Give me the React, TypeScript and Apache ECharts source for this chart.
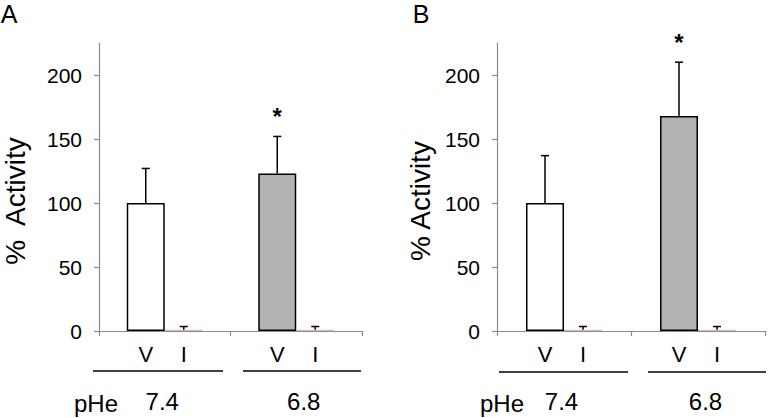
import React, { useEffect, useRef } from "react";
import * as echarts from "echarts";

const categories = ["7.4", "6.8"];
const seriesNames = ["V", "I"];
const vColors = ["#ffffff", "#b3b3b3"];
const iColor = "#e3b5c3";

// Panel A
const aV = [100, 123];
const aVErr = [27, 29];
const aI = [1, 1];
const aIErr = [2.5, 2.5];
const aSig = ["", "*"];

// Panel B
const bV = [100, 168];
const bVErr = [37, 42];
const bI = [1, 1];
const bIErr = [2.5, 2.5];
const bSig = ["", "*"];

const yTicks = [0, 50, 100, 150, 200];
const yMax = 225;

const FONT = "Liberation Sans, Arial, sans-serif";
const BAR_W = 38;

function errSeries(xi: number, vals: number[], errs: number[], sig: string[], dx: number) {
  return {
    type: "custom",
    xAxisIndex: xi,
    yAxisIndex: xi,
    z: 5,
    silent: true,
    data: vals.map((v, i) => [i, v, errs[i]]),
    renderItem: (params: any, api: any) => {
      const i = api.value(0);
      const v = api.value(1);
      const e = api.value(2);
      const s = sig[i] || "";
      const p0 = api.coord([i, v]);
      const p1 = api.coord([i, v + e]);
      const x = p0[0] + dx;
      const children: any[] = [
        { type: "line", shape: { x1: x, y1: p0[1], x2: x, y2: p1[1] }, style: { stroke: "#000", lineWidth: 1.5 } },
        { type: "line", shape: { x1: x - 4, y1: p1[1], x2: x + 4, y2: p1[1] }, style: { stroke: "#000", lineWidth: 1.5 } },
      ];
      if (s) {
        children.push({
          type: "text",
          style: { text: s, x: x, y: p1[1] - 20, align: "center", verticalAlign: "middle", fontSize: 24, fontWeight: "bold", fontFamily: FONT, fill: "#000" },
        });
      }
      return { type: "group", children };
    },
  };
}

function barSeries(xi: number, name: string, vals: number[], colors: string[] | string) {
  return {
    type: "bar",
    name,
    xAxisIndex: xi,
    yAxisIndex: xi,
    barWidth: BAR_W,
    barGap: "0%",
    data: vals.map((v, i) => ({
      value: v,
      itemStyle: {
        color: Array.isArray(colors) ? colors[i] : colors,
        borderColor: Array.isArray(colors) ? "#000" : colors,
        borderWidth: Array.isArray(colors) ? 1.5 : 0,
      },
    })),
    label: {
      show: true,
      position: ["50%", "100%"],
      offset: [0, 12],
      align: "center",
      verticalAlign: "top",
      formatter: () => name,
      fontSize: 22,
      fontFamily: FONT,
      color: "#000",
    },
  };
}

export default function App() {
  const ref = useRef<HTMLDivElement>(null);
  useEffect(() => {
    if (!ref.current) return;
    const chart = echarts.init(ref.current, null, { renderer: "svg" });
    const axisGray = "#8a8a8a";
    const mkX = (gi: number) => ({
      type: "category",
      gridIndex: gi,
      data: categories,
      axisLine: { lineStyle: { color: axisGray, width: 1.2 } },
      axisTick: { show: true, length: 5, lineStyle: { color: axisGray, width: 1.2 } },
      axisLabel: {
        margin: 58,
        formatter: (v: string) => (v === "7.4" ? `{a|${v}}` : `{b|${v}}`),
        rich: {
          a: { fontSize: 24, fontFamily: FONT, color: "#000", padding: [0, 5, 0, 0] },
          b: { fontSize: 24, fontFamily: FONT, color: "#000", padding: [0, 0, 0, 15] },
        },
      },
    });
    const mkY = (gi: number, name: string, gap: number) => ({
      type: "value",
      gridIndex: gi,
      min: 0,
      max: yMax,
      interval: 50,
      name,
      nameLocation: "middle",
      nameGap: gap,
      nameTextStyle: { fontSize: 28, fontFamily: FONT, color: "#000", padding: [0, 28, 0, 0] },
      splitLine: { show: false },
      axisLine: { show: true, lineStyle: { color: axisGray, width: 1.2 } },
      axisTick: { show: true, length: 5, customValues: yTicks, lineStyle: { color: axisGray, width: 1.2 } },
      axisLabel: { customValues: yTicks, margin: 17, fontSize: 21, fontFamily: FONT, color: "#000" },
    });
    const txt = (text: string, x: number, y: number, size: number) => ({
      type: "text",
      x,
      y,
      style: { text, fontSize: size, fontFamily: FONT, fill: "#000", align: "center", verticalAlign: "middle" },
    });
    const ln = (x1: number, x2: number, y: number) => ({
      type: "line",
      shape: { x1, y1: y, x2, y2: y },
      style: { stroke: "#000", lineWidth: 1.5 },
    });
    chart.setOption({
      animation: false,
      grid: [
        { left: 98, right: 407, top: 43, bottom: 87 },
        { left: 497, right: 4, top: 43, bottom: 87 },
      ],
      xAxis: [mkX(0), mkX(1)],
      yAxis: [mkY(0, "%  Activity", 70), mkY(1, "% Activity", 63)],
      series: [
        barSeries(0, seriesNames[0], aV, vColors),
        barSeries(0, seriesNames[1], aI, iColor),
        errSeries(0, aV, aVErr, aSig, -BAR_W / 2),
        errSeries(0, aI, aIErr, ["", ""], BAR_W / 2),
        barSeries(1, seriesNames[0], bV, vColors),
        barSeries(1, seriesNames[1], bI, iColor),
        errSeries(1, bV, bVErr, bSig, -BAR_W / 2),
        errSeries(1, bI, bIErr, ["", ""], BAR_W / 2),
      ],
      graphic: [
        txt("A", 9, 14, 25),
        txt("B", 421, 14, 25),
        txt("pHe", 96, 403, 24),
        txt("pHe", 502, 403, 24),
        ln(93, 223, 371),
        ln(243, 361, 371),
        ln(499, 628, 372),
        ln(648, 766, 372),
      ],
    });
    return () => chart.dispose();
  }, []);
  return <div ref={ref} style={{ position: "fixed", left: 0, top: 0, width: 769, height: 418, background: "#fff" }} />;
}
